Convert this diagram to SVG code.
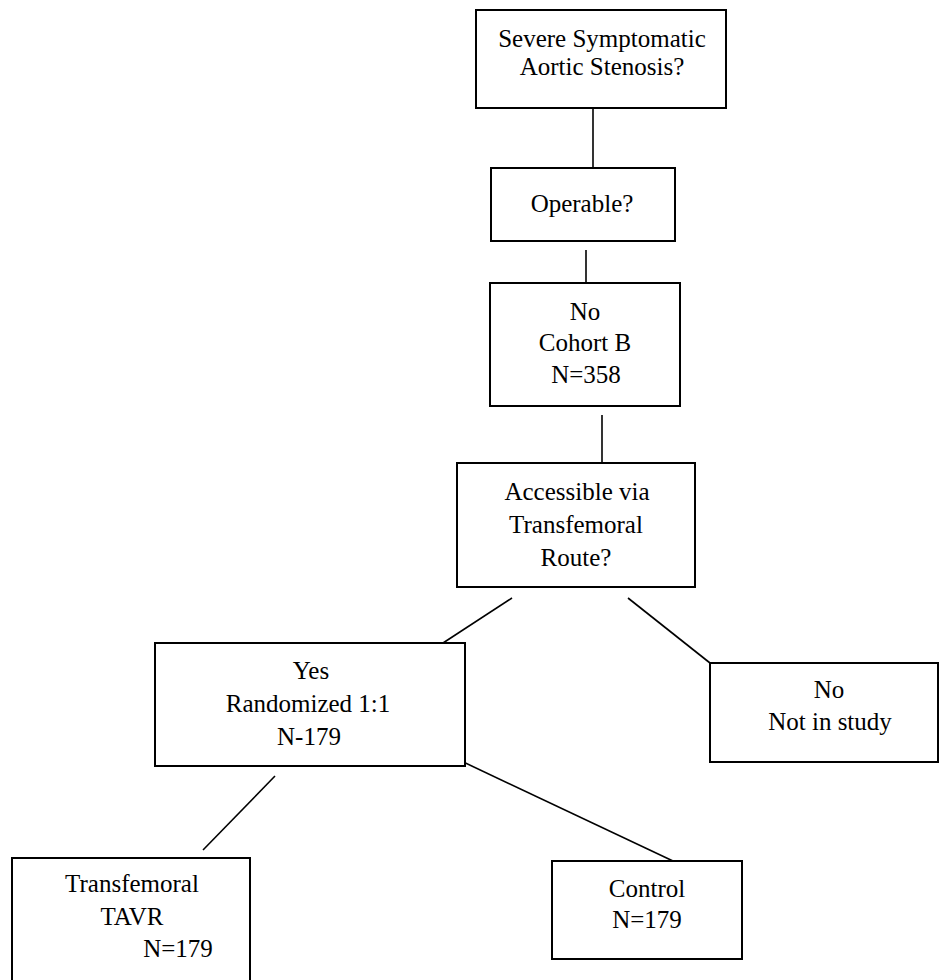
<svg xmlns="http://www.w3.org/2000/svg" width="940" height="980" viewBox="0 0 940 980">
<style>
.box{fill:#fff;stroke:#000;stroke-width:2}
.t{font-family:"Liberation Serif","Times New Roman",serif;font-size:25px;fill:#000;text-anchor:middle}
.c{stroke:#000;stroke-width:1.6;fill:none}
</style>
<rect width="940" height="980" fill="#fff"/>
<g id="connectors">
<line class="c" x1="593" y1="108" x2="593" y2="168"/>
<line class="c" x1="586" y1="250" x2="586" y2="283"/>
<line class="c" x1="602" y1="415" x2="602" y2="463"/>
<line class="c" x1="512" y1="598" x2="443" y2="643"/>
<line class="c" x1="628" y1="598" x2="710" y2="663"/>
<line class="c" x1="457" y1="759" x2="673" y2="861"/>
<line class="c" x1="275" y1="776" x2="203" y2="850"/>
</g>
<g id="n-severe">
<rect class="box" x="476" y="10" width="250" height="98"/>
<text class="t" x="602" y="47">Severe Symptomatic</text>
<text class="t" x="602" y="75">Aortic Stenosis?</text>
</g>
<g id="n-operable">
<rect class="box" x="491" y="168" width="184" height="73"/>
<text class="t" x="582" y="212">Operable?</text>
</g>
<g id="n-cohortb">
<rect class="box" x="490" y="283" width="190" height="123"/>
<text class="t" x="585" y="320">No</text>
<text class="t" x="585" y="351">Cohort B</text>
<text class="t" x="586" y="383">N=358</text>
</g>
<g id="n-accessible">
<rect class="box" x="457" y="463" width="238" height="124"/>
<text class="t" x="577" y="500">Accessible via</text>
<text class="t" x="576" y="533">Transfemoral</text>
<text class="t" x="576" y="566">Route?</text>
</g>
<g id="n-yes">
<rect class="box" x="155" y="643" width="310" height="123"/>
<text class="t" x="311" y="679">Yes</text>
<text class="t" x="308" y="712">Randomized 1:1</text>
<text class="t" x="309" y="745">N-179</text>
</g>
<g id="n-notinstudy">
<rect class="box" x="710" y="663" width="228" height="99"/>
<text class="t" x="829" y="698">No</text>
<text class="t" x="830" y="730">Not in study</text>
</g>
<g id="n-tavr">
<rect class="box" x="12" y="858" width="238" height="140"/>
<text class="t" x="132" y="892">Transfemoral</text>
<text class="t" x="132" y="925">TAVR</text>
<text class="t" x="178" y="957">N=179</text>
</g>
<g id="n-control">
<rect class="box" x="552" y="861" width="190" height="98"/>
<text class="t" x="647" y="897">Control</text>
<text class="t" x="647" y="928">N=179</text>
</g>
</svg>
